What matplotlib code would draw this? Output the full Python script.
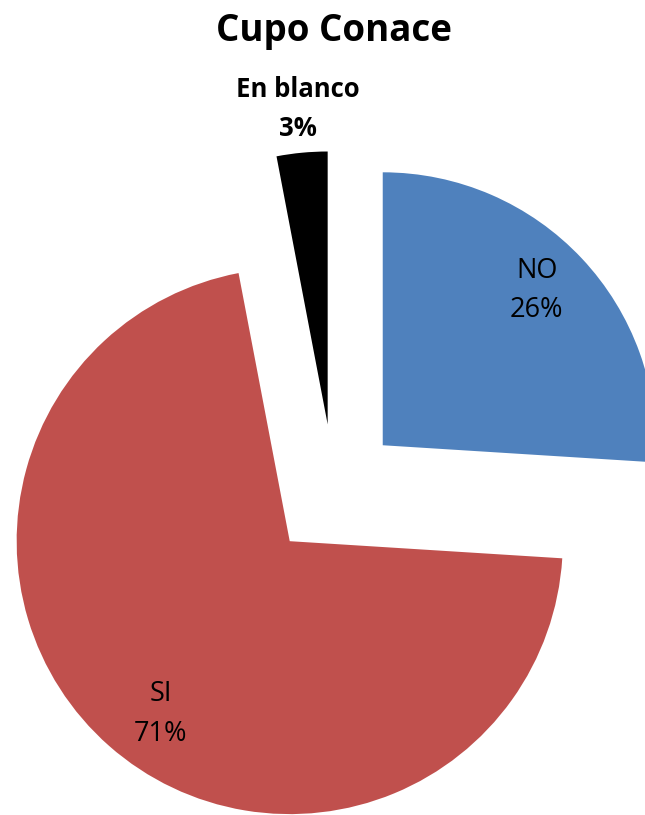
import matplotlib.pyplot as plt
import numpy as np

plt.rcParams['font.family'] = ['Open Sans', 'DejaVu Sans']

labels = ['NO', 'SI', 'En blanco']
values = [26, 71, 3]
colors = ['#4F81BD', '#C0504D', '#000000']
explode = [0.245, 0.245, 0.245]
label_dist = [0.80, 0.79, 1.16]
label_shift = [2.0, 4.7, 0.0]   # degrees, nudges label off the mid-angle
label_bold = [False, False, True]

fig = plt.figure(figsize=(6.45, 8.15), dpi=100)
ax = fig.add_axes([0, 0, 1, 1])

wedges, _ = ax.pie(values, colors=colors, explode=explode, startangle=90,
                   counterclock=False, radius=1, labels=None)

for w, lab, v, d, s, b in zip(wedges, labels, values, label_dist, label_shift, label_bold):
    ang = np.deg2rad((w.theta1 + w.theta2) / 2 + s)
    cx, cy = w.center
    ax.text(cx + d * w.r * np.cos(ang), cy + d * w.r * np.sin(ang),
            f"{lab}\n{v}%", ha='center', va='center',
            fontsize=18.5 if b else 19.5,
            fontweight='bold' if b else 'normal', color='black',
            linespacing=1.55)

# pie is larger than the canvas, cropped like the original
ax.set_xlim(-1.223, 1.139)
ax.set_ylim(-1.187, 1.799)
ax.set_aspect('auto')
ax.axis('off')

fig.text(0.518, 1 - 31 / 815, 'Cupo Conace', ha='center', va='center',
         fontsize=26.5, fontweight='bold')

fig.savefig('out.png', dpi=100)
